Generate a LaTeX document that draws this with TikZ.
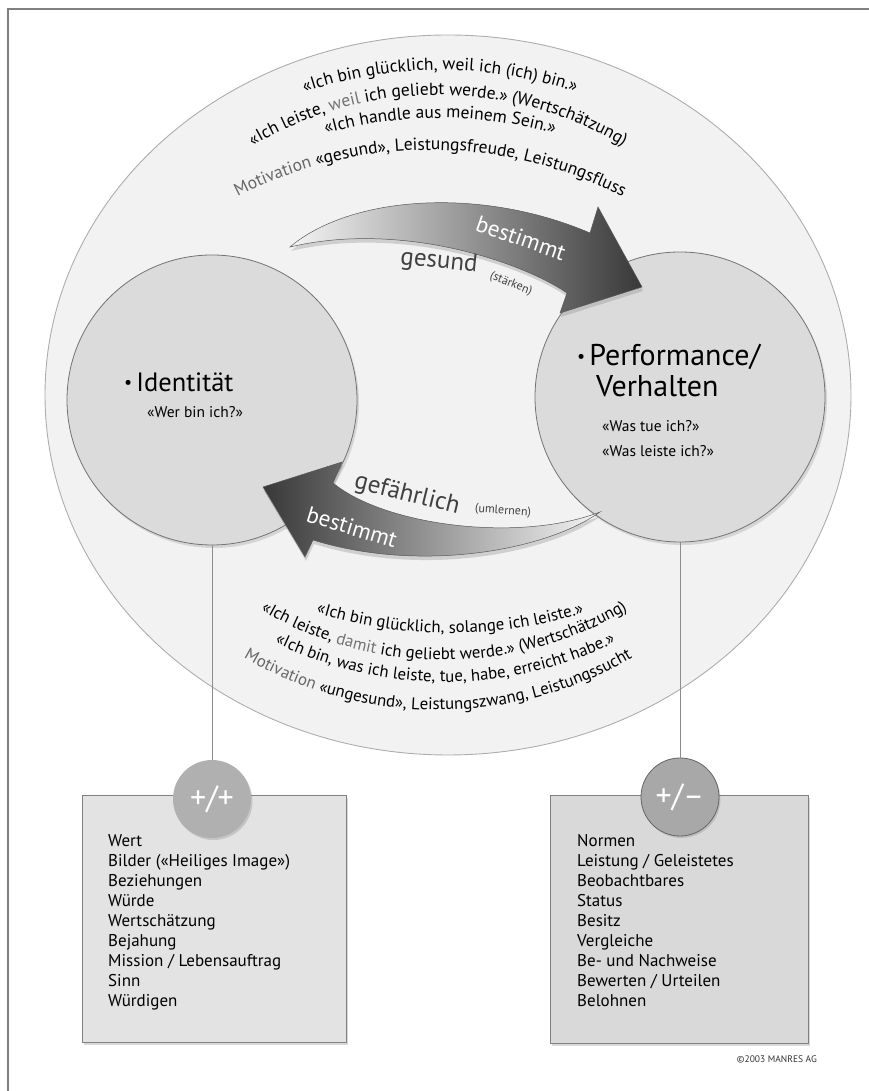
\documentclass[tikz,border=0pt]{standalone}
\usepackage{fontspec}
\setmainfont{PT Sans}
\usetikzlibrary{shadows,decorations.text}
\definecolor{framegray}{gray}{0.5}
\definecolor{ringfill}{gray}{0.95}
\definecolor{ringline}{gray}{0.68}
\definecolor{corefill}{gray}{0.86}
\definecolor{coreline}{gray}{0.45}
\definecolor{boxline}{gray}{0.5}
\definecolor{stemgray}{gray}{0.55}
\newcommand\smallbullet{\raisebox{3pt}{\fontsize{18}{18}\selectfont\textbullet}\hspace{4pt}}
\newcommand\arcfont{\fontsize{17.5}{19}\selectfont}
\newcommand\lowarcfont{\fontsize{16.8}{19}\selectfont}
\tikzset{
  frame/.style={draw=framegray, line width=2pt},
  ring/.style={draw=ringline, fill=ringfill, line width=0.9pt},
  core/.style={circle, draw=coreline, fill=corefill, line width=0.8pt, minimum size=290pt, inner sep=0pt,
    drop shadow={opacity=0.25, shadow xshift=2pt, shadow yshift=-3pt}},
  title/.style={font=\fontsize{30}{31}\selectfont, anchor=base west, inner sep=0pt},
  question/.style={font=\fontsize{15.5}{18}\selectfont, anchor=base west, inner sep=0pt},
  flow/.style={draw=black!65, line width=0.5pt,
    drop shadow={opacity=0.3, shadow xshift=1pt, shadow yshift=-4pt}},
  onflow/.style={text=white, font=\fontsize{23}{25}\selectfont, inner sep=0pt},
  byflow/.style={text=black!75, font=\fontsize{25}{27}\selectfont, inner sep=0pt},
  aside/.style={text=black!75, font=\fontsize{12}{14}\selectfont, inner sep=0pt},
  arcline/.style={decorate, decoration={text along path, text align=center, text={#1}}},
  listbox/.style={draw=boxline, line width=0.8pt, anchor=south west, inner sep=0pt,
    drop shadow={opacity=0.3, shadow xshift=2pt, shadow yshift=-2pt}},
  listitem/.style={font=\fontsize{17}{20}\selectfont, anchor=base west, inner sep=0pt},
  sign/.style={circle, minimum size=78pt, inner sep=0pt, text=white, font=\fontsize{32}{32}\selectfont,
    drop shadow={opacity=0.3, shadow xshift=1.5pt, shadow yshift=-2pt}},
  stem/.style={draw=stemgray, line width=1pt},
}
\begin{document}
\begin{tikzpicture}[x=1pt,y=1pt]
\useasboundingbox (0,0) rectangle (869,1091);
\draw[frame] (8,0) -- (8,1082) -- (869,1082);
\draw[ring] (448,696) ellipse [x radius=403, y radius=360];

% the two circles
\node[core] (ident) at (212,691) {};
\node[core] (perf) at (680,694) {};
\node[title, font=\fontsize{26.5}{28}\selectfont] (identname) at (124,699) {\smallbullet Identität};
\node[question] (identq) at (147,673) {«Wer bin ich?»};
\node[title] (perfname) at (577,725) {\smallbullet Performance/};
\node[title] (perfname2) at (596,694) {Verhalten};
\node[question] (perfq1) at (602,659) {«Was tue ich?»};
\node[question] (perfq2) at (602,634) {«Was leiste ich?»};

% upper arrow, identity to performance
\path[flow, left color=gray!8, right color=black!78]
  (290,844) .. controls (350,895) and (480,905) .. (590,858)
  -- (598,884) -- (642,804) -- (560,778) -- (567,798)
  .. controls (520,830) and (400,870) .. (290,844) -- cycle;
\node[onflow, rotate=-19] (topverb) at (521,853) {bestimmt};
\node[byflow, rotate=-6] (topkind) at (439,829) {gesund};
\node[aside, rotate=-22] (topnote) at (511,807) {(stärken)};

% lower arrow, performance back to identity
\path[flow, left color=black!78, right color=gray!8]
  (600,579) .. controls (545,540) and (420,518) .. (313,551)
  -- (305,534) -- (263,604) -- (342,629) -- (333,608)
  .. controls (385,565) and (520,548) .. (600,579) -- cycle;
\node[onflow, rotate=-17] (lowverb) at (352,564) {bestimmt};
\node[byflow, rotate=-14] (lowkind) at (407,596) {gefährlich};
\node[aside, rotate=-4] (lownote) at (503,580) {(umlernen)};

% curved sentences above
\path[arcline={|\arcfont|«Ich bin glücklich, weil ich (ich) bin.»}]
  (440,601) ++(118:420) arc[start angle=118, end angle=62, radius=420];
\path[arcline={|\arcfont|«Ich leiste, |\arcfont\color{black!55}|weil|\arcfont\color{black}| ich geliebt werde.» (Wertschätzung)}]
  (438,636) ++(130:360) arc[start angle=130, end angle=50, radius=360];
\path[arcline={|\arcfont|«Ich handle aus meinem Sein.»}]
  (440,553) ++(115:420) arc[start angle=115, end angle=65, radius=420];
\path[arcline={|\arcfont\color{black!60}|Motivation |\arcfont\color{black}|«gesund», Leistungsfreude, Leistungsfluss}]
  (430,521) ++(128:420) arc[start angle=128, end angle=52, radius=420];

% curved sentences below
\path[arcline={|\lowarcfont|«Ich bin glücklich, solange ich leiste.»}]
  (450,913) ++(245:455) arc[start angle=245, end angle=295, radius=455];
\path[arcline={|\lowarcfont|«Ich leiste, |\lowarcfont\color{black!55}|damit|\lowarcfont\color{black}| ich geliebt werde.» (Wertschätzung)}]
  (444,791) ++(230:360) arc[start angle=230, end angle=310, radius=360];
\path[arcline={|\lowarcfont|«Ich bin, was ich leiste, tue, habe, erreicht habe.»}]
  (445,795) ++(235:386) arc[start angle=235, end angle=305, radius=386];
\path[arcline={|\lowarcfont\color{black!60}|Motivation |\lowarcfont\color{black}|«ungesund», Leistungszwang, Leistungssucht}]
  (438,767) ++(228:386) arc[start angle=228, end angle=312, radius=386];

% the two lists
\node[listbox, fill=gray!22, minimum width=264pt, minimum height=247pt] (goodbox) at (82,48) {};
\node[listbox, fill=gray!30, minimum width=258pt, minimum height=248pt] (normbox) at (550,47) {};
\foreach \entry [count=\i] in {Wert, Bilder («Heiliges Image»), Beziehungen, Würde, Wertschätzung,
    Bejahung, Mission / Lebensauftrag, Sinn, Würdigen}
  \node[listitem] (good\i) at (108,{264-20*\i}) {\entry};
\foreach \entry [count=\i] in {Normen, Leistung / Geleistetes, Beobachtbares, Status, Besitz,
    Vergleiche, Be- und Nachweise, Bewerten / Urteilen, Belohnen}
  \node[listitem] (norm\i) at (577,{264-20*\i}) {\entry};
\node[sign, fill=gray!62] (plusplus) at (212,292) {+/+};
\node[sign, fill=gray!68, draw=black!60, line width=0.8pt] (plusminus) at (680,294) {+/–};
\draw[stem] (ident.south) -- (plusplus.north);
\draw[stem] (perf.south) -- (plusminus.north);

\node[font=\fontsize{9.5}{11}\selectfont, anchor=base east, inner sep=0pt, text=black!80] (copyline) at (817,28) {©2003 MANRES AG};
\end{tikzpicture}
\end{document}
